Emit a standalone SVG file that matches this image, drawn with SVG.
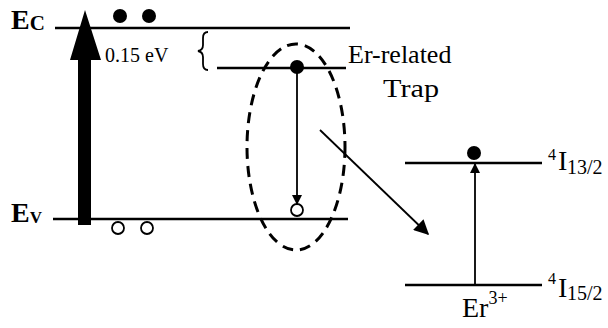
<svg xmlns="http://www.w3.org/2000/svg" width="608" height="328" viewBox="0 0 608 328">
<defs>
<style>
.lvl{stroke:#000;stroke-width:2.5;fill:none}
.t{font-family:"Liberation Serif","Times New Roman",serif;fill:#000}
.e{fill:#000}
.h{fill:#fff;stroke:#000;stroke-width:1.8}
.ln{stroke:#000;stroke-width:1.8;fill:none}
</style>
<marker id="ah" viewBox="0 0 10 10" refX="9" refY="5" markerWidth="10" markerHeight="12" markerUnits="userSpaceOnUse" orient="auto"><path d="M0,0 L10,5 L0,10 z" fill="#000"/></marker>
<marker id="ahL" viewBox="0 0 10 10" refX="9" refY="5" markerWidth="18" markerHeight="15" markerUnits="userSpaceOnUse" orient="auto"><path d="M0,0 L10,5 L0,10 z" fill="#000"/></marker>
</defs>
<rect width="608" height="328" fill="#fff"/>
<g id="conduction-band">
<line class="lvl" x1="55" y1="28" x2="350" y2="28"/>
<text class="t" x="11" y="29" font-size="28" font-weight="bold">E<tspan font-size="21" dy="1">C</tspan></text>
<circle class="e" cx="120" cy="16" r="7"/>
<circle class="e" cx="149" cy="16" r="7"/>
</g>
<g id="valence-band">
<line class="lvl" x1="53" y1="219" x2="348" y2="219"/>
<text class="t" x="11" y="222" font-size="28" font-weight="bold">E<tspan font-size="17" dy="1">V</tspan></text>
<circle class="h" cx="118" cy="228" r="6"/>
<circle class="h" cx="147" cy="228" r="6"/>
</g>
<g id="excitation-arrow">
<path d="M78,225 L78,60 L70,60 L85,10 L101,60 L91,60 L91,225 Z" fill="#000"/>
</g>
<g id="energy-gap">
<text class="t" x="105" y="62" font-size="20">0.15 eV</text>
<path class="ln" d="M208,32 Q203,32 203,38 L203,45 Q203,50 198,51 Q203,52 203,57 L203,64 Q203,70 208,70" stroke-width="2.2"/>
</g>
<g id="trap">
<line class="lvl" x1="217" y1="68" x2="346" y2="68"/>
<circle class="e" cx="297" cy="67" r="7"/>
<circle class="h" cx="297" cy="210" r="6"/>
<text class="t" x="348" y="63" font-size="26">Er-related</text>
<text class="t" x="383" y="97" font-size="26" textLength="56" lengthAdjust="spacingAndGlyphs">Trap</text>
<ellipse cx="296" cy="147" rx="49" ry="103" fill="none" stroke="#000" stroke-width="3" stroke-dasharray="11,7"/>
</g>
<g id="er-ion">
<line class="lvl" x1="405" y1="163" x2="542" y2="163"/>
<line class="lvl" x1="405" y1="285" x2="542" y2="285"/>
<circle class="e" cx="474" cy="153" r="7"/>
<text class="t" x="548" y="160" font-size="16">4<tspan x="558" y="170" font-size="28">I</tspan><tspan x="567" y="174" font-size="20">13/2</tspan></text>
<text class="t" x="548" y="284" font-size="16">4<tspan x="558" y="297" font-size="28">I</tspan><tspan x="567" y="300" font-size="20">15/2</tspan></text>
<text class="t" x="462" y="317" font-size="28">Er<tspan font-size="18" dy="-13">3+</tspan></text>
</g>
<g id="connectors">
<line class="ln" x1="297" y1="72" x2="297" y2="204" marker-end="url(#ah)"/>
<line class="ln" x1="475" y1="285" x2="475" y2="164" marker-end="url(#ah)"/>
<line class="ln" x1="320" y1="130" x2="428" y2="234" marker-end="url(#ahL)"/>
</g>
</svg>
